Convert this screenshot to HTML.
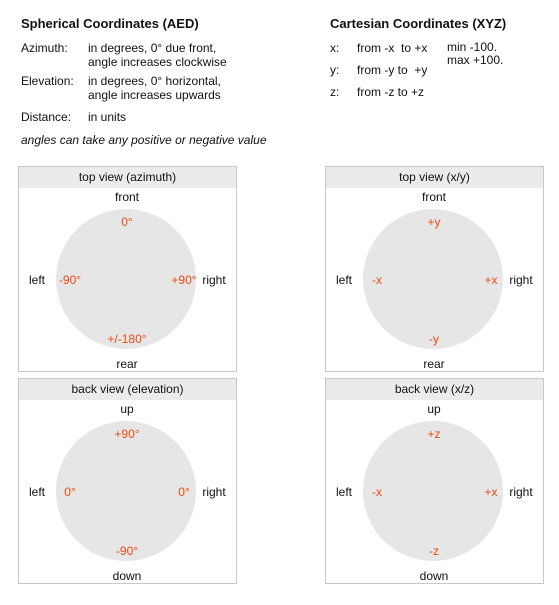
<!DOCTYPE html>
<html><head><meta charset="utf-8"><style>
body{margin:0;width:559px;height:605px;background:#fff;font-family:"Liberation Sans",Arial,sans-serif;font-size:12px;color:#111;position:relative;overflow:hidden}
.a{position:absolute;white-space:nowrap}
.b{font-weight:bold;font-size:13px}
.panel{position:absolute;width:219px;height:206px;border:1px solid #c8c8c8;box-sizing:border-box}
.hd{position:absolute;left:0;top:0;width:100%;height:21px;background:#ebebeb;text-align:center;line-height:21px}
.circ{position:absolute;width:140px;height:140px;border-radius:50%;background:#e6e6e6;left:37px;top:42px}
.lab{position:absolute;transform:translate(-50%,-50%);white-space:nowrap}
.o{color:#f04a10}
</style></head><body>
<div class="a b" style="left:21px;top:16px">Spherical Coordinates (AED)</div>
<div class="a" style="left:21px;top:41px">Azimuth:</div>
<div class="a" style="left:88px;top:41px;line-height:14px">in degrees, 0° due front,<br>angle increases clockwise</div>
<div class="a" style="left:21px;top:74px">Elevation:</div>
<div class="a" style="left:88px;top:74px;line-height:14px">in degrees, 0° horizontal,<br>angle increases upwards</div>
<div class="a" style="left:21px;top:110px">Distance:</div>
<div class="a" style="left:88px;top:110px">in units</div>
<div class="a" style="left:21px;top:133px;font-style:italic">angles can take any positive or negative value</div>

<div class="a b" style="left:330px;top:16px">Cartesian Coordinates (XYZ)</div>
<div class="a" style="left:330px;top:41px">x:</div>
<div class="a" style="left:357px;top:41px">from -x&nbsp; to +x</div>
<div class="a" style="left:330px;top:63px">y:</div>
<div class="a" style="left:357px;top:63px">from -y to&nbsp; +y</div>
<div class="a" style="left:330px;top:85px">z:</div>
<div class="a" style="left:357px;top:85px">from -z to +z</div>
<div class="a" style="left:447px;top:41px;line-height:13px">min -100.<br>max +100.</div>

<div id="root"></div>
<script>
const panels=[
 {x:18,y:166,title:"top view (azimuth)",t:"front",b:"rear",ot:"0°",ob:"+/-180°",ol:"-90°",or:"+90°",n:"azimuth"},
 {x:325,y:166,title:"top view (x/y)",t:"front",b:"rear",ot:"+y",ob:"-y",ol:"-x",or:"+x",n:"xy"},
 {x:18,y:378,title:"back view (elevation)",t:"up",b:"down",ot:"+90°",ob:"-90°",ol:"0°",or:"0°",n:"elevation"},
 {x:325,y:378,title:"back view (x/z)",t:"up",b:"down",ot:"+z",ob:"-z",ol:"-x",or:"+x",n:"xz"}
];
const root=document.getElementById('root');
function add(p,cls,txt,x,y,name){const d=document.createElement('div');d.className=cls;d.textContent=txt;d.style.left=x+'px';d.style.top=y+'px';


p.appendChild(d);}
panels.forEach(q=>{
 const p=document.createElement('div');p.className='panel';p.style.left=q.x+'px';p.style.top=q.y+'px';
 
 
 const h=document.createElement('div');h.className='hd';h.textContent=q.title;
 
 
 p.appendChild(h);
 const c=document.createElement('div');c.className='circ';
 
 
 p.appendChild(c);
 const cx=108,cy=113;
 add(p,'lab',q.t,cx,cy-83,'top-label');
 add(p,'lab',q.b,cx,cy+84,'bottom-label');
 add(p,'lab',"left",18,cy,'left-label');
 add(p,'lab',"right",195,cy,'right-label');
 add(p,'lab o',q.ot,cx,cy-58,'top-value');
 add(p,'lab o',q.ob,cx,cy+59,'bottom-value');
 add(p,'lab o',q.ol,cx-57,cy,'left-value');
 add(p,'lab o',q.or,cx+57,cy,'right-value');
 root.appendChild(p);
});
</script>
</body></html>
